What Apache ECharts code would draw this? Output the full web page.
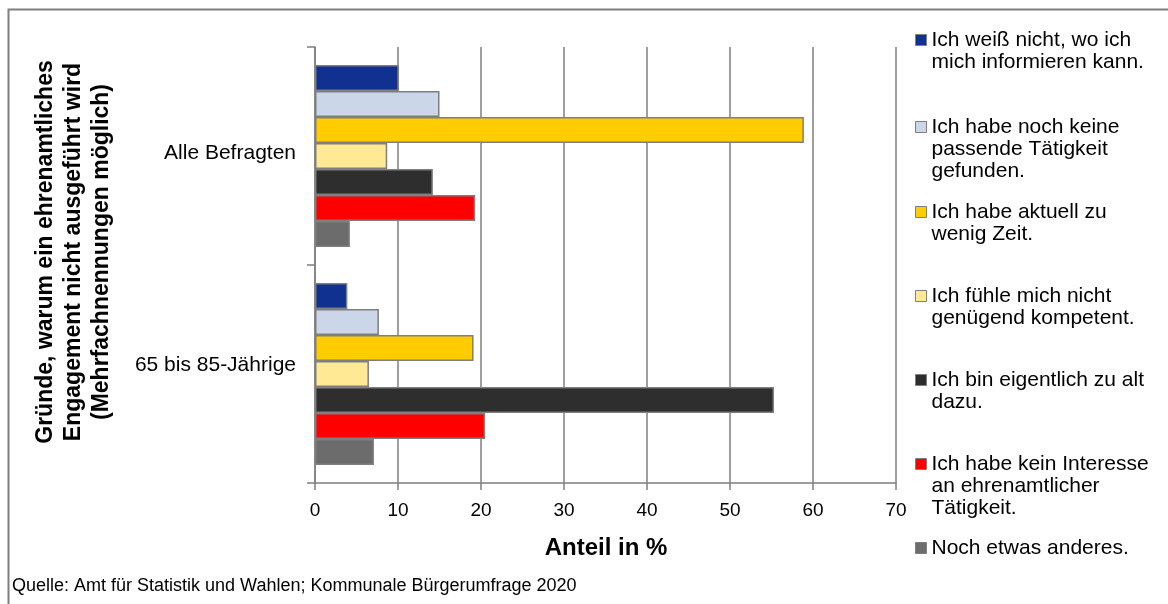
<!DOCTYPE html>
<html>
<head>
<meta charset="utf-8">
<script src="https://cdn.jsdelivr.net/npm/echarts@6/dist/echarts.min.js"></script>
<style>
html,body{margin:0;padding:0;background:#fff;}
#chart{width:1168px;height:604px;}
</style>
</head>
<body>
<div id="chart"></div>
<script>
// ---- data ----
const categories = ['Alle Befragten', '65 bis 85-Jährige'];
const seriesNames = [
  'Ich weiß nicht, wo ich\nmich informieren kann.',
  'Ich habe noch keine\npassende Tätigkeit\ngefunden.',
  'Ich habe aktuell zu\nwenig Zeit.',
  'Ich fühle mich nicht\ngenügend kompetent.',
  'Ich bin eigentlich zu alt\ndazu.',
  'Ich habe kein Interesse\nan ehrenamtlicher\nTätigkeit.',
  'Noch etwas anderes.'
];
const valNichtInformiert = [10.1, 3.9];
const valKeineTaetigkeit = [15.0, 7.7];
const valWenigZeit = [58.9, 19.1];
const valNichtKompetent = [8.7, 6.5];
const valZuAlt = [14.2, 55.3];
const valKeinInteresse = [19.3, 20.5];
const valAnderes = [4.2, 7.1];
const seriesValues = [valNichtInformiert, valKeineTaetigkeit, valWenigZeit, valNichtKompetent, valZuAlt, valKeinInteresse, valAnderes];
const xTicks = [0, 10, 20, 30, 40, 50, 60, 70];

// ---- styles ----
const colors = ['#10318f', '#cbd6e8', '#ffcc00', '#ffe994', '#2e2e2e', '#ff0000', '#6c6c6c'];
const FONT = '"Liberation Sans", Arial, sans-serif';
const legendFirstLine = [40, 127, 212, 296, 380, 464, 548];
const LH = 22;

const chart = echarts.init(document.getElementById('chart'), null, {renderer: 'canvas'});

const series = seriesNames.map((n, i) => ({
  name: n,
  type: 'bar',
  data: seriesValues[i],
  barWidth: 26,
  barGap: '0%',
  itemStyle: {color: colors[i], borderColor: '#7f7f7f', borderWidth: 1.5},
  emphasis: {disabled: true},
  animation: false
}));

const legends = seriesNames.map((n, i) => {
  const lines = n.split('\n').length;
  const total = 2 * lines - 1;
  return {
    data: [n],
    left: 915,
    top: legendFirstLine[i] - total * LH / 2,
    orient: 'vertical',
    itemWidth: 11,
    itemHeight: 11,
    itemGap: 0,
    padding: 0,
    selectedMode: false,
    icon: 'rect',
    formatter: name => ' \n'.repeat(lines - 1) + name,
    itemStyle: {borderColor: '#7f7f7f', borderWidth: 1},
    textStyle: {fontFamily: FONT, fontSize: 21, color: '#000', lineHeight: LH}
  };
});

const option = {
  backgroundColor: '#fff',
  animation: false,
  grid: {left: 315, right: 272, top: 47, bottom: 121, containLabel: false},
  legend: legends,
  xAxis: {
    type: 'value', min: 0, max: 70, interval: 10,
    axisLine: {show: true, lineStyle: {color: '#7f7f7f', width: 1.5}},
    axisTick: {show: true, length: 7, lineStyle: {color: '#7f7f7f', width: 1.5}},
    splitLine: {show: true, lineStyle: {color: '#7f7f7f', width: 1.5}},
    axisLabel: {
      fontFamily: FONT, fontSize: 19, color: '#000', margin: 18,
      formatter: v => xTicks.includes(v) ? String(v) : ''
    }
  },
  yAxis: {
    type: 'category', inverse: true, data: categories,
    axisLine: {show: true, lineStyle: {color: '#7f7f7f', width: 1.5}},
    axisTick: {show: true, length: 8, lineStyle: {color: '#7f7f7f', width: 1.5}},
    axisLabel: {
      fontFamily: FONT, fontSize: 21, color: '#000', margin: 19,
      formatter: (v, idx) => '{c' + idx + '|' + v + '}',
      rich: {
        c0: {fontFamily: FONT, fontSize: 21, color: '#000', padding: [0, 0, 6, 0]},
        c1: {fontFamily: FONT, fontSize: 21, color: '#000', padding: [0, 0, 18, 0]}
      }
    }
  },
  series: series,
  graphic: [
    {type: 'rect', silent: true, shape: {x: 8.5, y: 9.5, width: 1300, height: 700},
     style: {fill: 'none', stroke: '#7f7f7f', lineWidth: 2}},
    {type: 'text', silent: true, x: 74, y: 252, rotation: Math.PI / 2,
     style: {text: 'Gründe, warum ein ehrenamtliches\nEngagement nicht ausgeführt wird\n(Mehrfachnennungen möglich)',
       font: 'bold 23px ' + FONT, fill: '#000', align: 'center', verticalAlign: 'middle', lineHeight: 28}},
    {type: 'text', silent: true, x: 606, y: 548,
     style: {text: 'Anteil in %', font: 'bold 24px ' + FONT, fill: '#000', align: 'center', verticalAlign: 'middle'}},
    {type: 'text', silent: true, x: 12, y: 586,
     style: {text: 'Quelle: Amt für Statistik und Wahlen; Kommunale Bürgerumfrage 2020', font: '18px ' + FONT, fill: '#000', align: 'left', verticalAlign: 'middle'}}
  ]
};
chart.setOption(option);
</script>
</body>
</html>
